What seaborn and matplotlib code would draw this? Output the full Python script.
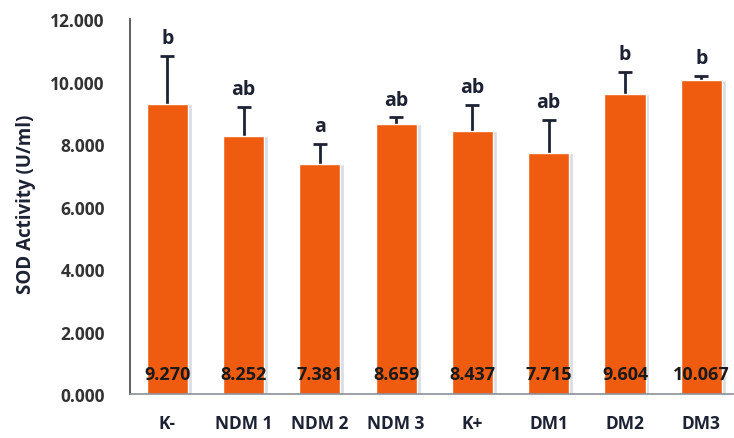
import matplotlib
matplotlib.use("Agg")
import matplotlib.pyplot as plt
import seaborn as sns
import pandas as pd
import numpy as np

groups = ["K-", "NDM 1", "NDM 2", "NDM 3", "K+", "DM1", "DM2", "DM3"]
means = [9.270, 8.252, 7.381, 8.659, 8.437, 7.715, 9.604, 10.067]
errors = [1.55, 0.93, 0.62, 0.20, 0.81, 1.05, 0.70, 0.12]
letters = ["b", "ab", "a", "ab", "ab", "ab", "b", "b"]
value_labels = ["9.270", "8.252", "7.381", "8.659", "8.437", "7.715", "9.604", "10.067"]
yticks = [0, 2, 4, 6, 8, 10, 12]
ytick_labels = ["0.000", "2.000", "4.000", "6.000", "8.000", "10.000", "12.000"]

sns.set_style("white")
plt.rcParams['font.family'] = ['Open Sans', 'DejaVu Sans']

df = pd.DataFrame({"group": groups, "mean": means})

fig = plt.figure(figsize=(7.34, 4.39), dpi=100)
ax = fig.add_axes([0.177, 0.10, 0.822, 0.854])

orange = "#EF5B0F"
dark = "#1C2233"

xs = np.arange(len(groups))
# shadow bars
ax.bar(xs + 0.05, means, width=0.54, color="#D9DCE2", zorder=1)
# error bars behind the bars so only the upper half shows
ax.errorbar(xs, means, yerr=errors, fmt="none",
            ecolor=dark, elinewidth=2, capsize=5, capthick=2, zorder=1.5)
sns.barplot(data=df, x="group", y="mean", color=orange, width=0.54,
            saturation=1, ax=ax, zorder=2, errorbar=None)

for x, m, e, l, v in zip(xs, means, errors, letters, value_labels):
    ax.text(x, m + e + 0.25, l, ha="center", va="bottom", fontsize=14,
            fontweight="bold", color=dark)
    ax.text(x, 0.65, v, ha="center", va="center", fontsize=13,
            fontweight="bold", color="#1a1a1a", zorder=4)

ax.set_ylim(0, 12)
ax.set_xlim(-0.49, 7.42)
ax.set_yticks(yticks)
ax.set_yticklabels(ytick_labels, fontsize=12.5, fontweight="bold", color="#333333")
ax.set_xticks(xs)
ax.set_xticklabels(groups, fontsize=12.5, fontweight="bold", color=dark)
ax.tick_params(axis="y", length=0, pad=18)
ax.tick_params(axis="x", length=0, pad=14)
ax.set_xlabel("")
ax.set_ylabel("SOD Activity (U/ml)", fontsize=13.5, fontweight="bold", color=dark, labelpad=8)
ax.yaxis.set_label_coords(-0.155, 0.51)

for s in ["top", "right"]:
    ax.spines[s].set_visible(False)
ax.spines["left"].set_color("#444444")
ax.spines["left"].set_linewidth(1.2)
ax.spines["bottom"].set_color("#8A8F99")
ax.spines["bottom"].set_linewidth(1.2)

fig.savefig("out.png", dpi=100)
